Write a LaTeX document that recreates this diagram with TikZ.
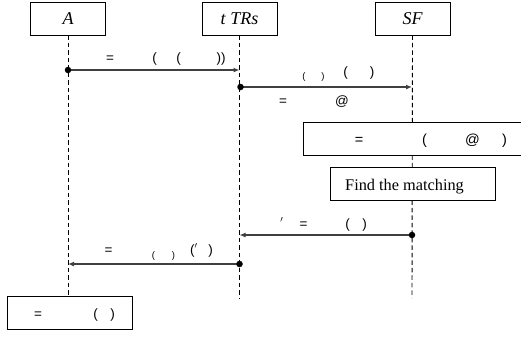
\documentclass[tikz,border=0pt]{standalone}
\usepackage{fontspec}
\setmainfont{Liberation Serif}
\newfontfamily\lblfont{Liberation Sans}
\usetikzlibrary{arrows.meta}
\begin{document}
\begin{tikzpicture}[x=1pt,y=-1pt,
  actor/.style={draw=black,line width=0.8pt,minimum width=75pt,minimum height=33pt,inner sep=0pt,font=\fontsize{18}{20}\selectfont\itshape},
  lifeline/.style={draw=black,line width=0.9pt,dash pattern=on 4.5pt off 3pt},
  msg/.style={draw=black!75,line width=1.4pt,-{Latex[length=6pt,width=5pt]}},
  dotc/.style={circle,fill=black,inner sep=0pt,minimum size=6.5pt},
  lbl/.style={anchor=base,inner sep=0pt,font=\lblfont\fontsize{13.5}{15}\selectfont},
  slbl/.style={anchor=base,inner sep=0pt,font=\lblfont\fontsize{9.5}{11}\selectfont},
  procbox/.style={draw=black,line width=0.9pt,fill=white,inner sep=0pt}]
\useasboundingbox (0,0) rectangle (521,338);
\clip (0,0) rectangle (521,338);
% actors
\node[actor] (A) at (68,18.5) {A};
\node[actor] (T) at (239.5,18.5) {t TRs};
\node[actor] (S) at (412.5,18.5) {SF};
% lifeline ends
\coordinate (Aend) at (68,296);
\coordinate (Tend) at (239.5,298);
\coordinate (Send) at (412,298);
\draw[lifeline] (A.south) -- (Aend);
\draw[lifeline] (T.south) -- (Tend);
\draw[lifeline] (S.south) -- (Send);
% message 1
\coordinate (a1) at (68,70);
\coordinate (t1) at (239.5,70);
\draw[msg] (a1) -- (t1);
\node[dotc] (d1) at (a1) {};
\node[lbl] (l1a) at (110,62) {=};
\node[lbl] (l1b) at (154.5,62) {(};
\node[lbl] (l1c) at (178.5,62) {(};
\node[lbl] (l1d) at (221,62) {))};
% message 2
\coordinate (t2) at (240.5,87);
\coordinate (s2) at (412,87);
\draw[msg] (t2) -- (s2);
\node[dotc] (d2) at (t2) {};
\node[slbl] (l2a) at (304,79) {(};
\node[slbl] (l2b) at (323,79) {)};
\node[lbl] (l2c) at (345.5,76) {(};
\node[lbl] (l2d) at (372,76) {)};
\node[lbl] (l2e) at (283,105) {=};
\node[lbl] (l2f) at (342,105) {@};
% box 3
\node[procbox,minimum width=222pt,minimum height=33pt] (B3) at (414,138.5) {};
\node[lbl,font=\lblfont\fontsize{14.5}{16}\selectfont] (l3a) at (359,144) {=};
\node[lbl,font=\lblfont\fontsize{14.5}{16}\selectfont] (l3b) at (424.5,144) {(};
\node[lbl,font=\lblfont\fontsize{14.5}{16}\selectfont] (l3c) at (472.5,144) {@};
\node[lbl,font=\lblfont\fontsize{14.5}{16}\selectfont] (l3d) at (504.5,144) {)};
% box 4
\node[procbox,minimum width=165pt,minimum height=33pt] (B4) at (412.5,183.5) {};
\node[anchor=base west,inner sep=0pt,font=\fontsize{16.3}{18}\selectfont] (l4) at (345,190) {Find the matching};
% message 5
\coordinate (s5) at (412,235);
\coordinate (t5) at (239.5,235);
\draw[msg] (s5) -- (t5);
\node[dotc] (d5) at (s5) {};
\node[lbl] (l5a) at (282,228) {$'$};
\node[lbl] (l5b) at (303.5,228) {=};
\node[lbl] (l5c) at (347.5,228) {(};
\node[lbl] (l5d) at (364.5,228) {)};
% message 6
\coordinate (t6) at (239.5,264);
\coordinate (a6) at (68,264);
\draw[msg] (t6) -- (a6);
\node[dotc] (d6) at (t6) {};
\node[lbl] (l6a) at (108.5,254) {=};
\node[slbl] (l6b) at (153.5,258) {(};
\node[slbl] (l6c) at (173.5,258) {)};
\node[lbl] (l6d) at (194,254) {($'$};
\node[lbl] (l6e) at (210.5,254) {)};
% box 7
\node[procbox,minimum width=125pt,minimum height=33pt] (B7) at (69.5,312.5) {};
\node[lbl] (l7a) at (38,318) {=};
\node[lbl] (l7b) at (95.5,318) {(};
\node[lbl] (l7c) at (112.5,318) {)};
\end{tikzpicture}
\end{document}
